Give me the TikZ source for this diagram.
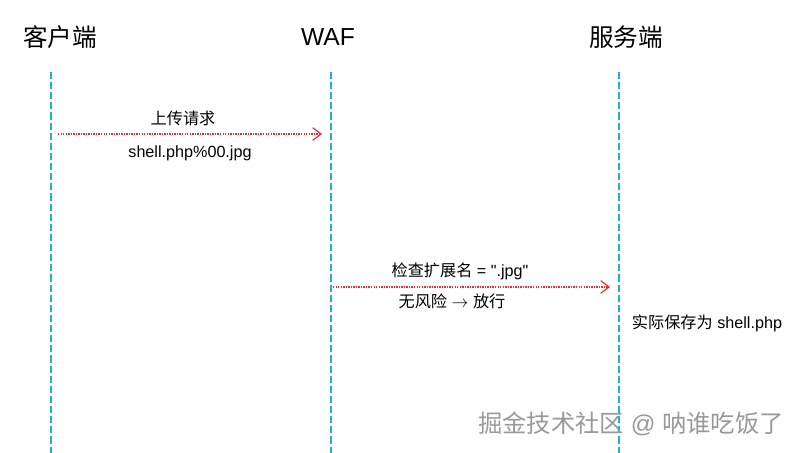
\documentclass[tikz,border=0pt]{standalone}
\usepackage{fontspec}
\usepackage{tikz}
\usetikzlibrary{arrows.meta}
\setmainfont{Liberation Sans}[Ligatures=TeXOff]
\newfontfamily\cjk{Noto Sans CJK SC}

\definecolor{lifeteal}{HTML}{1FB3C6}
\definecolor{msgred}{HTML}{EE2A2E}

\tikzset{
  lifeline/.style={draw=lifeteal, line width=0.9pt, dash pattern=on 5pt off 2.2pt},
  msgarrow/.style={draw=msgred, line width=0.9pt, dash pattern=on 1pt off 0.8pt,
    -{Straight Barb[length=6pt, width=9pt, line width=0.8pt]}},
  headtext/.style={font=\fontsize{17.5}{20}\selectfont},
  msgtext/.style={font=\fontsize{11.5}{13}\selectfont, inner sep=1pt}
}

\begin{document}
\begin{tikzpicture}[x=0.025cm, y=-0.025cm]
\useasboundingbox (0,0) rectangle (801,453);

% Participants
\node[headtext] (client) at (60,37) {\cjk 客户端};
\node[headtext] (waf) at (328,37) {WAF};
\node[headtext] (server) at (626,37) {\cjk 服务端};

% Lifelines
\foreach \name/\x in {c/51, w/331, s/619} {
    \coordinate (\name top) at (\x,72);
    \coordinate (\name bot) at (\x,453);
    \draw[lifeline] (\name top) -- (\name bot);
}

% Upload request
\coordinate (up1) at (58,134);
\coordinate (up2) at (322,134);
\draw[msgarrow] (up1) -- (up2);
\node[msgtext] (uplabel) at (183,118) {\cjk 上传请求};
\node[msgtext] (upfile) at (190,153) {shell.php\%00.jpg};

% Extension check
\coordinate (ck1) at (333,287);
\coordinate (ck2) at (610,287);
\draw[msgarrow] (ck1) -- (ck2);
\node[msgtext] (cklabel) at (460,271) {{\cjk 检查扩展名} = ".jpg"};
\node[msgtext] (pass) at (452,301) {{\cjk 无风险} $\rightarrow$ {\cjk 放行}};

% Saved result
\node[msgtext] (saved) at (707,323) {{\cjk 实际保存为} shell.php};

% Watermark
\node[font=\fontsize{17.3}{20}\selectfont, text=gray!80] (mark) at (631,424) {{\cjk 掘金技术社区} @ {\cjk 呐谁吃饭了}};
\end{tikzpicture}
\end{document}
